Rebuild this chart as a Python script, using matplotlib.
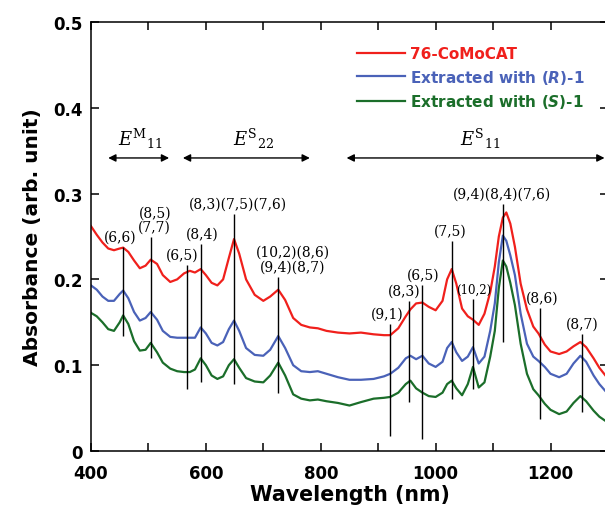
import matplotlib
matplotlib.use('Agg')
import matplotlib.pyplot as plt

# wavelength grid (nm) shared by the three spectra
wavelength = [400, 410, 420, 430, 440, 450, 456, 465, 475, 485, 495, 504, 515, 525, 538,
              550, 562, 572, 581, 591, 600, 610, 620, 630, 640, 649, 658, 670, 685, 700,
              712, 726, 738, 752, 766, 781, 795, 810, 830, 850, 870, 892, 910, 921, 935,
              948, 956, 966, 977, 988, 1000, 1012, 1020, 1028, 1036, 1046, 1056, 1065, 1075,
              1085, 1095, 1103, 1110, 1117, 1123, 1130, 1138, 1148, 1159, 1170, 1179, 1190,
              1200, 1215, 1228, 1240, 1252, 1262, 1275, 1285, 1298]

como = [0.262, 0.252, 0.243, 0.236, 0.234, 0.236, 0.237, 0.232, 0.222, 0.213, 0.216, 0.223,
        0.218, 0.205, 0.197, 0.200, 0.207, 0.210, 0.208, 0.212, 0.205, 0.196, 0.193, 0.200,
        0.225, 0.247, 0.230, 0.200, 0.182, 0.175, 0.180, 0.188, 0.176, 0.155, 0.147, 0.144,
        0.143, 0.140, 0.138, 0.137, 0.138, 0.136, 0.135, 0.135, 0.143, 0.157, 0.165, 0.172,
        0.173, 0.168, 0.164, 0.175, 0.200, 0.212, 0.195, 0.166, 0.157, 0.153, 0.147, 0.160,
        0.185, 0.215, 0.250, 0.272, 0.278, 0.265, 0.238, 0.195, 0.165, 0.145, 0.137, 0.124,
        0.116, 0.113, 0.116, 0.122, 0.127, 0.121, 0.108, 0.097, 0.086]

r_ext = [0.193, 0.188, 0.180, 0.175, 0.175, 0.183, 0.187, 0.178, 0.162, 0.152, 0.155, 0.162,
         0.153, 0.140, 0.133, 0.132, 0.132, 0.132, 0.132, 0.144, 0.137, 0.126, 0.123, 0.127,
         0.142, 0.152, 0.140, 0.120, 0.112, 0.111, 0.118, 0.134, 0.120, 0.100, 0.093, 0.092,
         0.093, 0.090, 0.086, 0.083, 0.083, 0.084, 0.087, 0.090, 0.097, 0.108, 0.111, 0.107,
         0.111, 0.102, 0.098, 0.104, 0.120, 0.127, 0.115, 0.105, 0.110, 0.121, 0.102, 0.110,
         0.140, 0.172, 0.220, 0.251, 0.245, 0.228, 0.205, 0.160, 0.125, 0.110, 0.105, 0.098,
         0.090, 0.086, 0.090, 0.102, 0.111, 0.104, 0.088, 0.078, 0.068]

s_ext = [0.161, 0.157, 0.150, 0.142, 0.140, 0.150, 0.158, 0.148, 0.128, 0.117, 0.118, 0.126,
         0.115, 0.103, 0.096, 0.093, 0.092, 0.092, 0.095, 0.108, 0.100, 0.088, 0.084, 0.087,
         0.100, 0.107, 0.097, 0.085, 0.081, 0.080, 0.088, 0.103, 0.088, 0.066, 0.061, 0.059,
         0.060, 0.058, 0.056, 0.053, 0.057, 0.061, 0.062, 0.063, 0.068, 0.078, 0.082, 0.073,
         0.068, 0.064, 0.063, 0.068, 0.078, 0.082, 0.073, 0.065, 0.078, 0.098, 0.074, 0.080,
         0.110, 0.140, 0.190, 0.222, 0.215, 0.196, 0.170, 0.125, 0.090, 0.072, 0.065, 0.055,
         0.048, 0.043, 0.046, 0.056, 0.064, 0.058, 0.047, 0.040, 0.034]

series_names = ['76-CoMoCAT', r'Extracted with ($\mathbfit{R}$)-1', r'Extracted with ($\mathbfit{S}$)-1']
series_colors = ['#f0201c', '#4a62b8', '#1b6e2a']

# chirality assignments
peak_labels = ['(6,6)', '(8,5)\n(7,7)', '(6,5)', '(8,4)', '(8,3)(7,5)(7,6)',
               '(10,2)(8,6)\n(9,4)(8,7)', '(9,1)', '(8,3)', '(6,5)', '(7,5)', '(10,2)',
               '(9,4)(8,4)(7,6)', '(8,6)', '(8,7)']
peak_nm = [455, 504, 568, 592, 649, 725, 921, 954, 977, 1028, 1065, 1118, 1182, 1255]
label_nm = [450, 511, 559, 593, 656, 751, 915, 945, 978, 1025, 1066, 1115, 1185, 1255]
line_top = [0.238, 0.249, 0.217, 0.241, 0.276, 0.203, 0.148, 0.175, 0.193, 0.245, 0.177, 0.288, 0.167, 0.136]
line_bottom = [0.134, 0.108, 0.072, 0.080, 0.078, 0.068, 0.018, 0.057, 0.014, 0.061, 0.072, 0.127, 0.037, 0.045]
label_size = [10, 10, 10, 10, 10, 10, 10, 10, 10, 10, 8.5, 10, 10, 10]

# transition regions
region_labels = [r'$E^{\mathrm{M}}{}_{11}$', r'$E^{\mathrm{S}}{}_{22}$', r'$E^{\mathrm{S}}{}_{11}$']
region_start = [430, 560, 845]
region_end = [536, 781, 1294]
region_center = [485, 683, 1077]

x_ticks = [400, 600, 800, 1000, 1200]
x_minor = [500, 700, 900, 1100, 1300]
y_ticks = [0, 0.1, 0.2, 0.3, 0.4, 0.5]
y_ticklabels = ['0', '0.1', '0.2', '0.3', '0.4', '0.5']

fig = plt.figure(figsize=(6.05, 5.1), dpi=100)
ax = fig.add_axes([0.1504, 0.1137, 0.8545, 0.8413])

for ys, name, c in zip([como, r_ext, s_ext], series_names, series_colors):
    ax.plot(wavelength, ys, color=c, lw=1.6, label=name)

ax.vlines(peak_nm, line_bottom, line_top, color='black', lw=1.0, zorder=5)
for txt, xn, yt, fs in zip(peak_labels, label_nm, line_top, label_size):
    ax.text(xn, yt + 0.004, txt, ha='center', va='bottom', family='DejaVu Serif',
            fontsize=fs, linespacing=1.05)

for lab, x0, x1, xc in zip(region_labels, region_start, region_end, region_center):
    ax.annotate('', xy=(x1, 0.3415), xytext=(x0, 0.3415),
                arrowprops=dict(arrowstyle='<|-|>', color='black', lw=1.0,
                                mutation_scale=11, shrinkA=0, shrinkB=0))
    t = ax.text(xc, 0.357, lab, ha='center', va='baseline', fontsize=13)
    t.set_math_fontfamily('dejavuserif')

ax.set_xlim(400, 1300)
ax.set_ylim(0, 0.5)
ax.set_xticks(x_ticks)
ax.set_xticklabels([str(v) for v in x_ticks])
ax.set_xticks(x_minor, minor=True)
ax.set_yticks(y_ticks)
ax.set_yticklabels(y_ticklabels)
ax.tick_params(which='both', direction='in', length=6, width=1.1, top=True, right=True,
               labelsize=12)
ax.tick_params(axis='x', pad=9)
ax.tick_params(axis='y', pad=6)
for lbl in ax.get_xticklabels() + ax.get_yticklabels():
    lbl.set_fontweight('bold')
for s in ax.spines.values():
    s.set_linewidth(1.1)

ax.set_xlabel('Wavelength (nm)', fontsize=14.8, fontweight='bold', labelpad=2)
ax.set_ylabel('Absorbance (arb. unit)', fontsize=14.5, fontweight='bold', labelpad=8)

leg = ax.legend(loc='upper left', bbox_to_anchor=(0.487, 0.975), frameon=False,
                prop={'weight': 'bold', 'size': 11}, handlelength=3.2, handletextpad=0.3,
                labelspacing=0.42, labelcolor='linecolor')
for t in leg.get_texts():
    t.set_math_fontfamily('dejavusans')

fig.savefig('out.png', dpi=100)
